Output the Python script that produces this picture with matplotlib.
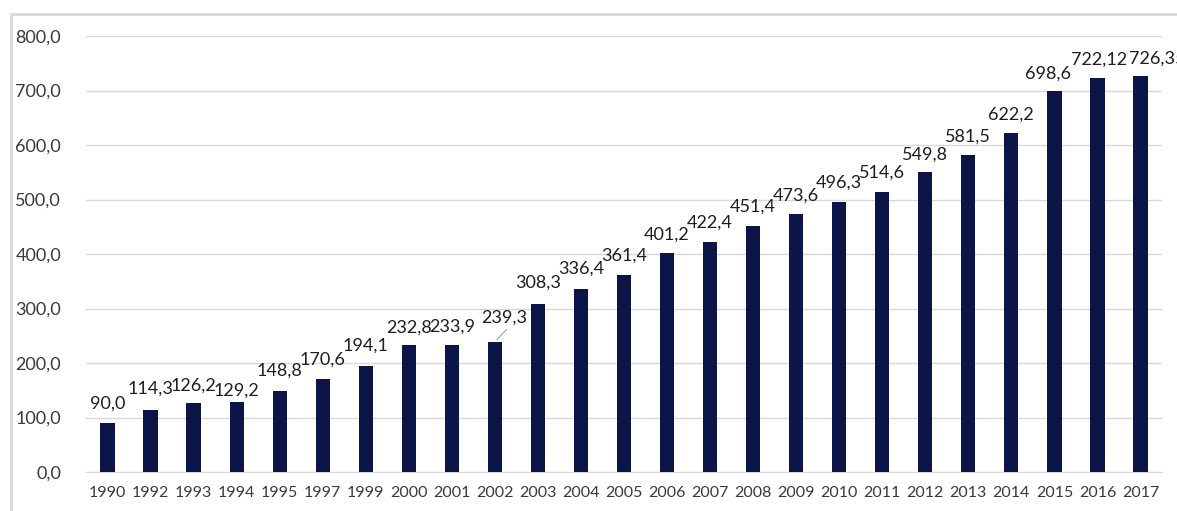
import matplotlib.pyplot as plt
from matplotlib.patches import Rectangle

years = ['1990', '1992', '1993', '1994', '1995', '1997', '1999', '2000', '2001',
         '2002', '2003', '2004', '2005', '2006', '2007', '2008', '2009', '2010',
         '2011', '2012', '2013', '2014', '2015', '2016', '2017']
values = [90.0, 114.3, 126.2, 129.2, 148.8, 170.6, 194.1, 232.8, 233.9,
          239.3, 308.3, 336.4, 361.4, 401.2, 422.4, 451.4, 473.6, 496.3,
          514.6, 549.8, 581.5, 622.2, 698.6, 722.12, 726.35]
labels = ['90,0', '114,3', '126,2', '129,2', '148,8', '170,6', '194,1', '232,8', '233,9',
          '239,3', '308,3', '336,4', '361,4', '401,2', '422,4', '451,4', '473,6', '496,3',
          '514,6', '549,8', '581,5', '622,2', '698,6', '722,12', '726,35']

# label placement: (dx in categories, dy in data units above bar top)
label_dx = [0, 0, 0, 0, 0, 0, 0, 0, 0,
            0.22, 0, 0, 0, 0, 0, 0, 0, 0,
            0, 0, 0, 0, -0.14, 0.03, 0.4]
label_dy = [36, 38, 32, 21, 37, 35, 37, 33, 32,
            44, 39, 36, 35, 34, 35, 35, 34, 34,
            34, 33, 33, 34, 33, 35, 32]

bar_color = '#0b1547'
font = ['Lato', 'DejaVu Sans']

fig = plt.figure(figsize=(11.77, 5.11), dpi=100)
ax = fig.add_axes([86 / 1177, 39 / 511, 1076 / 1177, 436 / 511])

x = range(len(years))
ax.bar(x, values, width=0.33, color=bar_color, zorder=3)

for i, (v, txt) in enumerate(zip(values, labels)):
    ax.text(i + label_dx[i], v + label_dy[i], txt, ha='center', va='center',
            fontsize=13, color='#1e1e1e', family=font, clip_on=False)

# leader line from the 2002 bar to its shifted label
i2002 = years.index('2002')
ax.plot([i2002 + 0.05, i2002 + 0.27], [values[i2002] + 4, values[i2002] + 22],
        color='#a6a6a6', lw=0.8, zorder=4)

ax.set_xlim(-0.5, len(years) - 0.5)
ax.set_ylim(0, 800)
ax.set_yticks(range(0, 801, 100))
ax.set_yticklabels([f'{t},0' for t in range(0, 801, 100)])
ax.set_xticks(list(x))
ax.set_xticklabels(years)
ax.tick_params(axis='y', length=0, pad=18, labelsize=13, labelcolor='#3a3a3a')
ax.tick_params(axis='x', length=0, pad=10, labelsize=11.5, labelcolor='#3a3a3a')
for t in ax.get_xticklabels() + ax.get_yticklabels():
    t.set_family(font)

ax.grid(axis='y', color='#d9d9d9', lw=1, zorder=0)
for side in ['top', 'right', 'left']:
    ax.spines[side].set_visible(False)
ax.spines['bottom'].set_color('#d9d9d9')

# chart area border (left and top edges)
fig.patches.append(Rectangle((11 / 1177, -0.1), 1.2, (511 - 14) / 511 + 0.1,
                             transform=fig.transFigure, fill=False,
                             edgecolor='#d9d9d9', lw=2))

fig.savefig('out.png', dpi=100)
